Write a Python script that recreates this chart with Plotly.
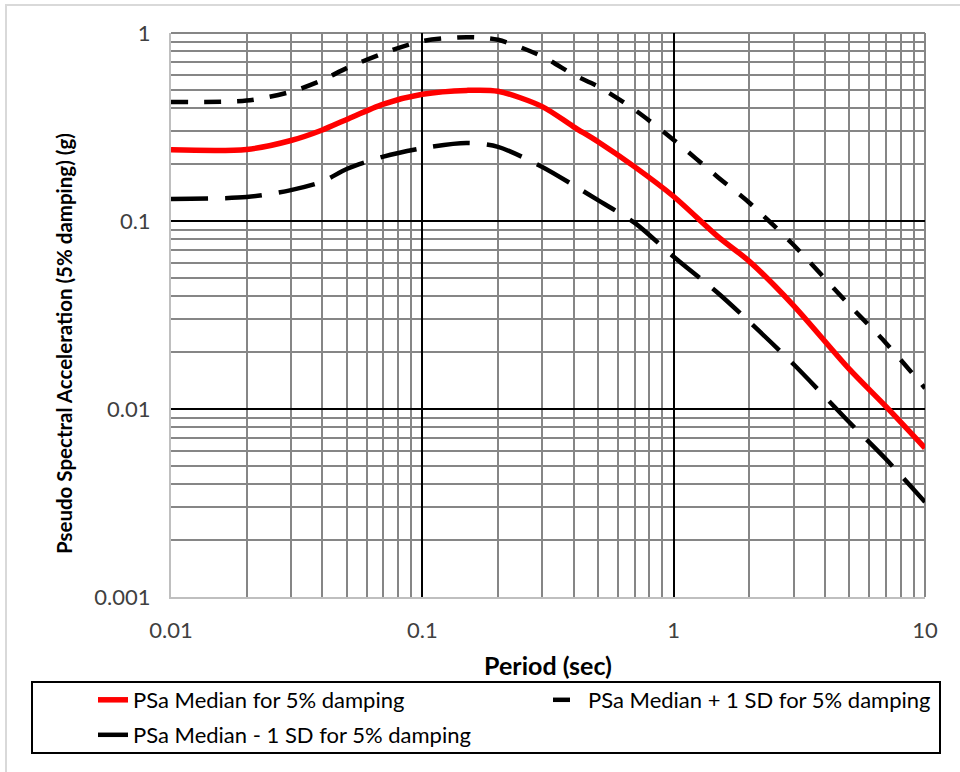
import numpy as np
import plotly.graph_objects as go

# Spectral periods (sec) and pseudo spectral acceleration (g), 5% damping
period = [0.01, 0.02, 0.03, 0.04, 0.05, 0.07, 0.1, 0.15, 0.2, 0.3, 0.4,
          0.5, 0.7, 1.0, 1.5, 2.0, 3.0, 5.0, 7.0, 10.0]
psa_median = [0.239, 0.240, 0.268, 0.305, 0.347, 0.419, 0.472, 0.495, 0.490, 0.406, 0.317,
              0.264, 0.194, 0.135, 0.0826, 0.0610, 0.0355, 0.0163, 0.0103, 0.0062]
psa_plus_sd = [0.430, 0.437, 0.487, 0.562, 0.650, 0.780, 0.906, 0.950, 0.920, 0.750, 0.600,
               0.520, 0.390, 0.270, 0.171, 0.125, 0.0745, 0.0357, 0.0224, 0.0129]
psa_minus_sd = [0.131, 0.134, 0.146, 0.162, 0.189, 0.220, 0.244, 0.260, 0.248, 0.194, 0.155,
                0.129, 0.0977, 0.0646, 0.0414, 0.0291, 0.0173, 0.0085, 0.0054, 0.0032]

x_ticks = [0.01, 0.1, 1, 10]
x_tick_text = ["0.01", "0.1", "1", "10"]
y_ticks = [0.001, 0.01, 0.1, 1]
y_tick_text = ["0.001", "0.01", "0.1", "1"]

FONT = "Lato"
W, H = 960, 772
L, R, T, B = 171, 35, 33, 175
pw, ph = W - L - R, H - T - B


def px_x(p):
    return (p - L) / pw


def px_y(p):
    return 1 - (p - T) / ph


def minor_vals(lo, hi):
    vals = []
    for e in range(lo, hi):
        vals += [m * 10.0 ** e for m in range(2, 10)]
    return vals


fig = go.Figure()
fig.add_trace(go.Scatter(
    x=period, y=psa_median, mode="lines",
    line=dict(color="#ff0000", width=5.5, shape="spline", smoothing=0.8),
    name="PSa Median for 5% damping",
    legend="legend", legendwidth=410,
))
fig.add_trace(go.Scatter(
    x=period, y=psa_plus_sd, mode="lines",
    line=dict(color="#000000", width=4.5, dash="17px,16px", shape="spline", smoothing=0.8),
    name="PSa Median + 1 SD for 5% damping",
    legend="legend",
))
fig.add_trace(go.Scatter(
    x=period, y=psa_minus_sd, mode="lines",
    line=dict(color="#000000", width=4.5, dash="37px,17px", shape="spline", smoothing=0.8),
    name="PSa Median - 1 SD for 5% damping",
    legend="legend2",
))

axis_font = dict(family=FONT, size=22, color="#404040")

fig.update_xaxes(
    type="log", range=[-2, 1],
    tickmode="array", tickvals=x_ticks, ticktext=x_tick_text,
    tickfont=axis_font, ticklabelstandoff=13,
    showgrid=True, gridcolor="#000000", gridwidth=2,
    minor=dict(tickmode="array", tickvals=minor_vals(-2, 1),
               showgrid=True, gridcolor="#868686", gridwidth=2),
    showline=True, linecolor="#bfbfbf", linewidth=2,
    zeroline=False, ticks="",
    title=dict(text="<b>Period (sec)</b>", font=dict(family=FONT, size=25, color="#000000"),
               standoff=15),
)
fig.update_yaxes(
    type="log", range=[-3, 0],
    tickmode="array", tickvals=y_ticks, ticktext=y_tick_text,
    tickfont=axis_font, ticklabelstandoff=14,
    showgrid=True, gridcolor="#000000", gridwidth=2,
    minor=dict(tickmode="array", tickvals=minor_vals(-3, 0),
               showgrid=True, gridcolor="#868686", gridwidth=2),
    showline=True, linecolor="#bfbfbf", linewidth=2,
    zeroline=False, ticks="",
)

shapes = [
    # top and right edges of the plot area
    dict(type="line", xref="paper", yref="paper", x0=0, x1=1, y0=1, y1=1,
         line=dict(color="#868686", width=2), layer="between"),
    dict(type="line", xref="paper", yref="paper", x0=1, x1=1, y0=0, y1=1,
         line=dict(color="#868686", width=2), layer="between"),
    # legend frame
    dict(type="rect", xref="paper", yref="paper",
         x0=px_x(32), x1=px_x(940), y0=px_y(682), y1=px_y(753),
         line=dict(color="#000000", width=2), fillcolor="rgba(0,0,0,0)"),
    # chart area frame
    dict(type="rect", xref="paper", yref="paper",
         x0=px_x(6), x1=px_x(1000), y0=px_y(5), y1=px_y(820),
         line=dict(color="#d9d9d9", width=2), fillcolor="rgba(0,0,0,0)"),
]

legend_font = dict(family=FONT, size=22, color="#000000")
fig.update_layout(
    width=W, height=H,
    margin=dict(l=L, r=R, t=T, b=B),
    paper_bgcolor="#ffffff", plot_bgcolor="#ffffff",
    font=dict(family=FONT),
    shapes=shapes,
    showlegend=True,
    legend=dict(orientation="h", x=px_x(93), y=px_y(679), xanchor="left", yanchor="top",
                font=legend_font, bgcolor="rgba(0,0,0,0)", borderwidth=0,
                traceorder="normal"),
    legend2=dict(orientation="h", x=px_x(93), y=px_y(714), xanchor="left", yanchor="top",
                 font=legend_font, bgcolor="rgba(0,0,0,0)", borderwidth=0),
    annotations=[dict(
        text="<b>Pseudo Spectral Acceleration (5% damping) (g)</b>",
        xref="paper", yref="paper", x=px_x(64), y=px_y(344),
        xanchor="center", yanchor="middle", textangle=-90, showarrow=False,
        font=dict(family=FONT, size=20.5, color="#000000"),
    )],
)

fig.write_html("out.html")
